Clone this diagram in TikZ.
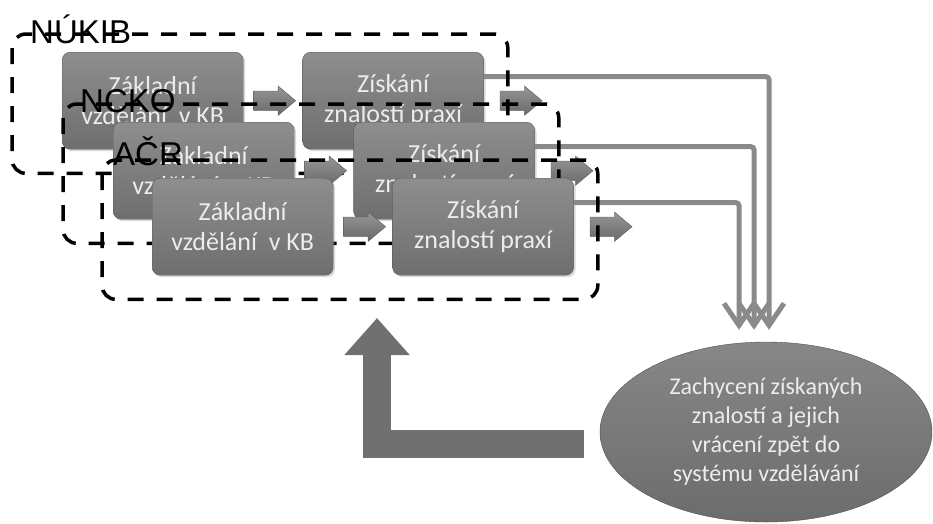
\documentclass[tikz,border=0pt]{standalone}
\usepackage{fontspec}
\setmainfont{Carlito}
\newfontfamily\lblfont{Liberation Sans}
\usetikzlibrary{arrows.meta,positioning,shapes.geometric,shapes.arrows,shadows}
\definecolor{boxtop}{RGB}{142,142,142}
\definecolor{boxbot}{RGB}{110,110,110}
\definecolor{boxedge}{RGB}{92,92,92}
\definecolor{boxtext}{RGB}{236,236,236}
\definecolor{flowgray}{RGB}{138,138,138}
\definecolor{blktop}{RGB}{150,150,150}
\definecolor{blkbot}{RGB}{105,105,105}
\definecolor{sinktop}{RGB}{135,135,135}
\definecolor{sinkbot}{RGB}{108,108,108}
\definecolor{sinkedge}{RGB}{80,80,80}
\definecolor{backgray}{RGB}{112,112,112}
\tikzset{
  stage/.style={
    draw=boxedge, top color=boxtop, bottom color=boxbot, rounded corners=8pt,
    minimum width=181pt, minimum height=97pt, inner sep=0pt,
    align=center, text=boxtext, font=\fontsize{26}{30}\selectfont,
    drop shadow={shadow xshift=2pt, shadow yshift=-2pt, opacity=0.3},
  },
  blk/.style={
    single arrow, single arrow head extend=5pt, single arrow tip angle=80,
    minimum height=42pt, inner xsep=0pt, inner ysep=9.5pt,
    top color=blktop, bottom color=blkbot, draw=boxedge, line width=0.4pt,
  },
  grp/.style={draw=black, line width=3.5pt, dash pattern=on 16pt off 13pt, rounded corners=14pt},
  grplbl/.style={anchor=base west, inner sep=0pt, font=\lblfont\fontsize{33}{33}\selectfont},
  feed/.style={draw=flowgray, line width=5pt, rounded corners=3pt,
    -{Straight Barb[length=22pt,width=30pt]}},
  sink/.style={
    ellipse, draw=sinkedge, top color=sinktop, bottom color=sinkbot,
    minimum width=332pt, minimum height=180pt, inner sep=0pt,
    align=center, text=boxtext, font=\fontsize{24}{29}\selectfont,
  },
  back/.style={draw=backgray, line width=28pt, line join=miter,
    -{Triangle[length=37pt,width=63pt]}},
}

\begin{document}
\begin{tikzpicture}[x=1pt,y=-1pt]
  \useasboundingbox (0,0) rectangle (933,523);

  \node[sink] (sink) at (766,432)
    {Zachycení získaných\\znalostí a jejich\\vrácení zpět do\\systému vzdělávání};

  % NUKIB
  \node[stage, anchor=north west] (n1) at (62,52) {Základní\\vzdělání~~v KB};
  \node[stage, right=59pt of n1] (n2) {Získání\\znalostí praxí};
  \node[blk, right=10pt of n1] (n12) {};
  \node[blk, right=16pt of n2] (n2o) {};
  \draw[feed] ([yshift=24pt]n2.east) -| ([xshift=3pt,yshift=12pt]sink.north);
  \draw[grp] ([shift={(-50pt,18pt)}]n1.north west) rectangle ([shift={(24pt,-24pt)}]n2.south east);
  \node[grplbl] (nl) at (30,43) {NÚKIB};

  % NCKO
  \node[stage, anchor=north west] (c1) at (113,122) {Základní\\vzdělání~~v KB};
  \node[stage, right=59pt of c1] (c2) {Získání\\znalostí praxí};
  \node[blk, right=10pt of c1] (c12) {};
  \node[blk, right=16pt of c2] (c2o) {};
  \draw[feed] ([yshift=24pt]c2.east) -| ([xshift=-12pt,yshift=12pt]sink.north);
  \draw[grp] ([shift={(-50pt,18pt)}]c1.north west) rectangle ([shift={(24pt,-24pt)}]c2.south east);
  \node[grplbl] (cl) at (80,112) {NCKO};

  % ACR
  \node[stage, anchor=north west] (a1) at (152,178) {Základní\\vzdělání~~v KB};
  \node[stage, right=59pt of a1] (a2) {Získání\\znalostí praxí};
  \node[blk, right=10pt of a1] (a12) {};
  \node[blk, right=16pt of a2] (a2o) {};
  \draw[feed] ([yshift=24pt]a2.east) -| ([xshift=-27pt,yshift=12pt]sink.north);
  \draw[grp] ([shift={(-50pt,18pt)}]a1.north west) rectangle ([shift={(24pt,-24pt)}]a2.south east);
  \node[grplbl] (al) at (113,165) {AČR};

  % feedback
  \coordinate (fb) at (377,318);
  \draw[back] ([shift={(-16pt,-12pt)}]sink.west) -| (fb);
\end{tikzpicture}
\end{document}
